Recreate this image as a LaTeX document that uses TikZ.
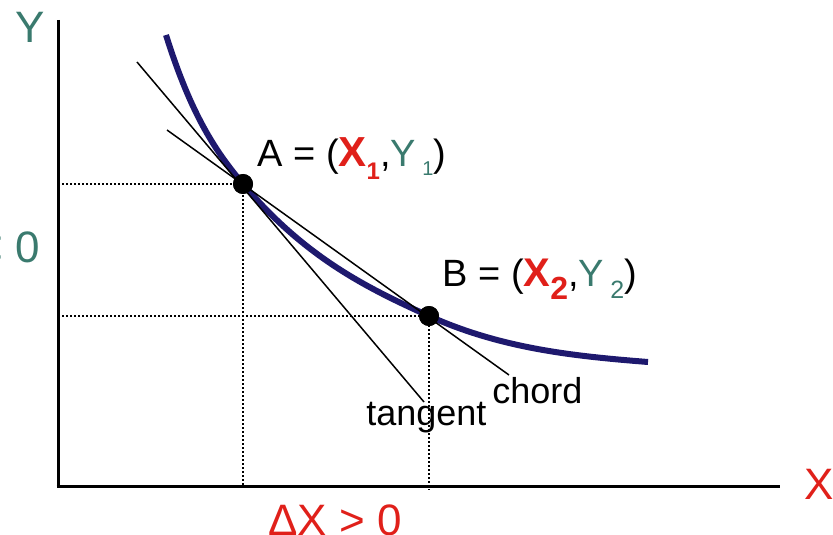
\documentclass[tikz,border=0pt]{standalone}
\usepackage{fontspec}
\setmainfont{Liberation Sans}
\definecolor{cred}{RGB}{224,32,26}
\definecolor{cteal}{RGB}{58,122,110}
\definecolor{cnavy}{RGB}{30,25,110}
% #1 size, #2 drop, #3 text
\newcommand{\lowsub}[3]{\raisebox{-#2}{\fontsize{#1}{#1}\selectfont #3}}
\begin{document}
\begin{tikzpicture}[x=0.5pt,y=-0.5pt,
  axis/.style={line width=1.5pt,black},
  guide/.style={line width=0.7pt,black,dash pattern=on 1pt off 1pt},
  thinline/.style={line width=0.75pt,black},
  curveline/.style={line width=3pt,cnavy},
  dot/.style={circle,fill=black,inner sep=0pt,minimum size=10pt},
  lbl/.style={inner sep=0pt,font=\fontsize{19}{19}\selectfont},
  small/.style={inner sep=0pt,font=\fontsize{18}{18}\selectfont},
  big/.style={inner sep=0pt,font=\fontsize{22}{22}\selectfont}]
\useasboundingbox (0,0) rectangle (833,534);
% axes
\coordinate (O) at (58,486);
\coordinate (Ytop) at (58,20);
\coordinate (Xend) at (780,486);
\draw[axis] (Ytop) -- ([yshift=-1pt]O);
\draw[axis] ([xshift=-0.75pt]O) -- (Xend);
% points
\node[dot] (A) at (243,184) {};
\node[dot] (B) at (429,316) {};
% guides
\draw[guide] (O |- A.center) -- (A.center) -- (A.center |- O);
\draw[guide] (O |- B.center) -- (B.center) -- ([yshift=-2pt]B.center |- O);
% curve
\coordinate (S) at (166,35);
\coordinate (E) at (648,362);
\draw[curveline] (S) .. controls (191.7,117) and (217.3,153.6) .. (A.center)
  .. controls (305,257.5) and (367,288) .. (B.center)
  .. controls (502,348.9) and (575,356.2) .. (E);
% tangent and chord
\coordinate (t1) at (137,62);
\coordinate (t2) at (424,402);
\coordinate (c1) at (167,130);
\coordinate (c2) at (509,375);
\draw[thinline] (t1) -- (t2);
\draw[thinline] (c1) -- (c2);
\node[dot] at (A.center) {};
\node[dot] at (B.center) {};
% labels
\node[small,anchor=base west] (tang) at (366,425) {tangent};
\node[small,anchor=base west] (chord) at (492,403) {chord};
\node[lbl,anchor=base west] (Alab) at (257,167) {A = (\textcolor{cred}{\fontsize{21}{21}\selectfont\bfseries X\lowsub{12}{6pt}{1}},\textcolor{cteal}{Y\,\lowsub{10}{4.5pt}{1}})};
\node[lbl,anchor=base west] (Blab) at (442,286) {B = (\textcolor{cred}{\fontsize{20}{20}\selectfont\bfseries X\lowsub{16}{6.5pt}{2}},\textcolor{cteal}{Y\,\lowsub{12.5}{6pt}{2}})};
\node[big,anchor=base west,text=cteal] (Ylab) at (15,43) {Y};
\node[big,anchor=base west,text=cred] (Xlab) at (804,499) {X};
\node[big,anchor=base east,text=cteal] (dY) at (40,262) {ΔY < 0};
\node[big,anchor=base west,text=cred] (dX) at (268,535) {ΔX > 0};
\end{tikzpicture}
\end{document}
